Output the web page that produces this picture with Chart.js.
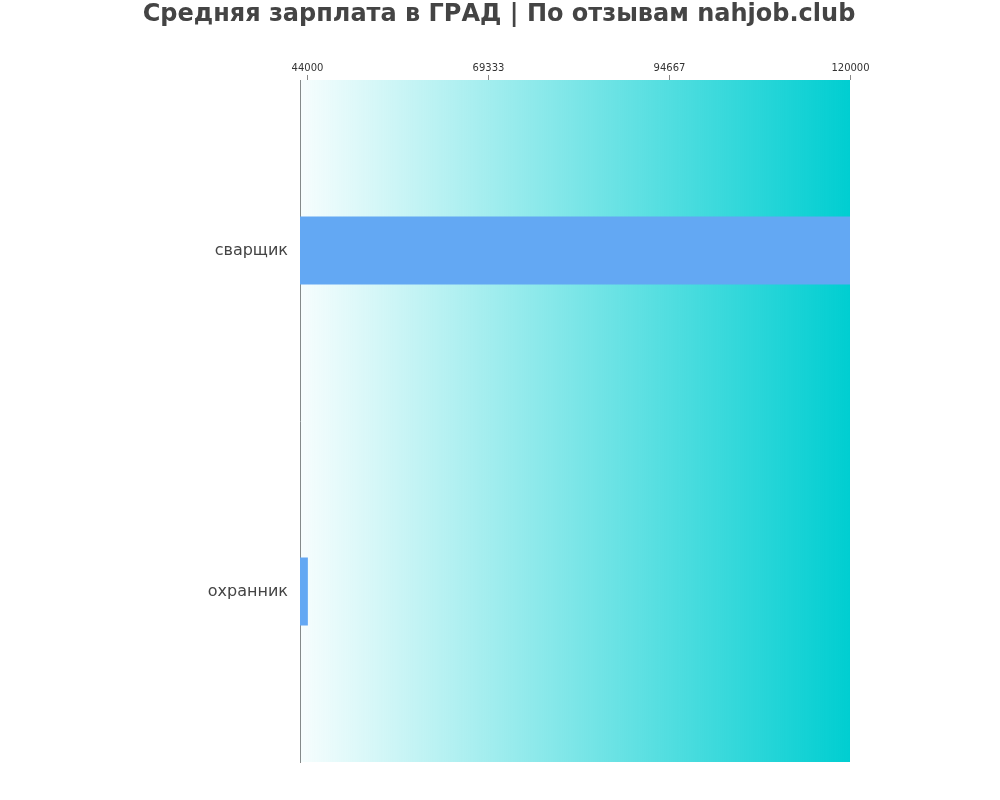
<!DOCTYPE html>
<html>
<head>
<meta charset="utf-8">
<script src="https://cdn.jsdelivr.net/npm/chart.js@4"></script>
<style>
  body { margin: 0; background: #fff; }
  #wrap { width: 1000px; height: 800px; position: relative; }
</style>
</head>
<body>
<div id="wrap"><canvas id="c"></canvas></div>
<script>
const categories = ['сварщик', 'охранник'];
const salaries = [120000, 44100];
const tickValues = [44000, 69333, 94667, 120000];
const titleText = 'Средняя зарплата в ГРАД | По отзывам nahjob.club';

// gradient behind the bars, title centred on the page, top ticks and their labels
const decor = {
  id: 'decor',
  beforeDatasetsDraw(chart) {
    const { ctx, chartArea: a } = chart;
    const g = ctx.createLinearGradient(a.left, 0, a.right, 0);
    g.addColorStop(0, 'rgba(0,206,209,0.03)');
    g.addColorStop(1, 'rgba(0,206,209,1)');
    ctx.save();
    ctx.fillStyle = g;
    ctx.fillRect(a.left, a.top, a.right - a.left, a.bottom - a.top);
    ctx.restore();
  },
  afterDraw(chart) {
    const { ctx } = chart;
    const top = chart.chartArea.top;
    ctx.save();
    ctx.fillStyle = '#444';
    ctx.font = 'bold 24px "DejaVu Sans"';
    ctx.textAlign = 'center';
    ctx.textBaseline = 'middle';
    ctx.fillText(titleText, 499, 15);
    const x = chart.scales.x;
    ctx.strokeStyle = '#888';
    ctx.lineWidth = 1;
    ctx.fillStyle = '#333';
    ctx.font = '10px "DejaVu Sans"';
    tickValues.forEach(v => {
      const px = Math.round(x.getPixelForValue(v)) + 0.5;
      ctx.beginPath();
      ctx.moveTo(px, top - 5);
      ctx.lineTo(px, top);
      ctx.stroke();
      ctx.fillText(String(v), px, top - 12);
    });
    ctx.restore();
  }
};

new Chart(document.getElementById('c'), {
  type: 'bar',
  data: {
    labels: categories,
    datasets: [{
      data: salaries,
      backgroundColor: '#63a8f3',
      barPercentage: 0.2,
      categoryPercentage: 1.0
    }]
  },
  plugins: [decor],
  options: {
    responsive: true,
    maintainAspectRatio: false,
    animation: false,
    indexAxis: 'y',
    layout: { padding: { left: 0, right: 150, top: 64, bottom: 38 } },
    plugins: {
      legend: { display: false },
      tooltip: { enabled: false },
      title: { display: false }
    },
    scales: {
      x: {
        position: 'top',
        min: 43000,
        max: 120000,
        afterBuildTicks(axis) { axis.ticks = tickValues.map(v => ({ value: v })); },
        afterFit(axis) { axis.height = 16; },
        grid: { display: false },
        border: { display: false },
        ticks: { display: false }
      },
      y: {
        grid: { display: false },
        border: { display: true, color: '#888' },
        afterFit(axis) { axis.width = 300; },
        ticks: { color: '#444', font: { family: 'DejaVu Sans', size: 16 }, padding: 4 }
      }
    }
  }
});
</script>
</body>
</html>
